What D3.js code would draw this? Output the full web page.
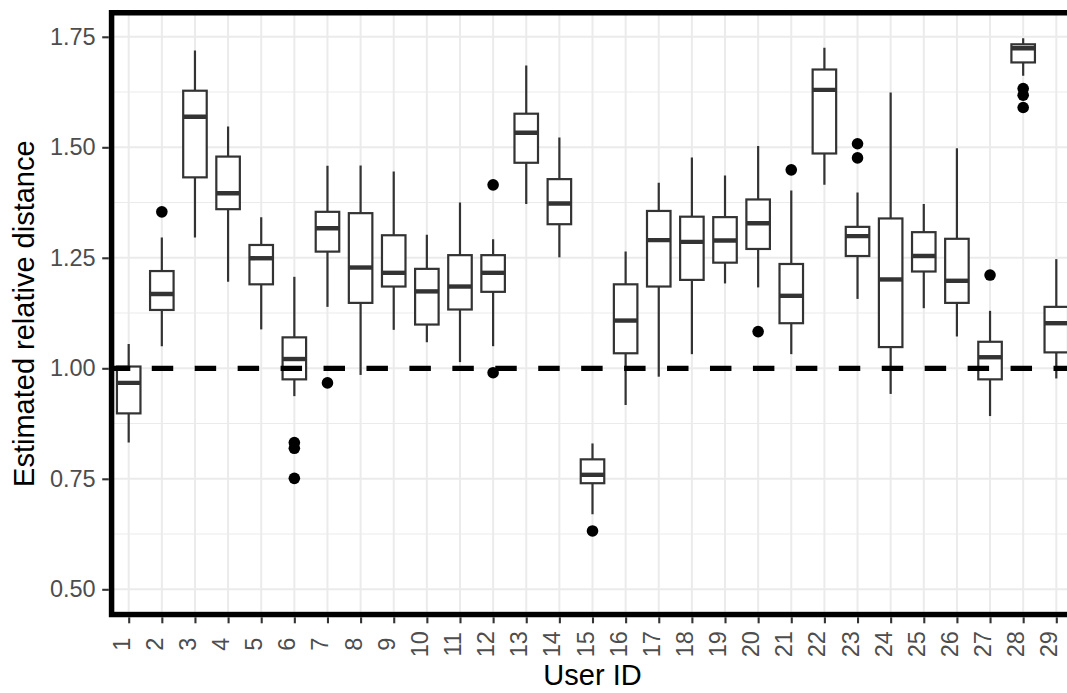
<!DOCTYPE html>
<html>
<head>
<meta charset="utf-8">
<script src="https://cdn.jsdelivr.net/npm/d3@7"></script>
<style>
  html, body { margin: 0; padding: 0; background: #fff; }
  svg { display: block; font-family: "Liberation Sans", Arial, Helvetica, sans-serif; }
</style>
</head>
<body>
<svg id="chart" width="1067" height="693"></svg>
<script>
// ---- data ----
const userIds = ["1","2","3","4","5","6","7","8","9","10","11","12","13","14","15","16","17","18","19","20","21","22","23","24","25","26","27","28","29"];
const whiskerLow  = [0.832,1.050,1.296,1.196,1.088,0.937,1.139,0.985,1.087,1.059,1.014,1.050,1.372,1.251,0.670,0.917,0.981,1.032,1.192,1.183,1.032,1.415,1.157,0.942,1.136,1.072,0.892,1.662,0.977];
const q1Values    = [0.898,1.132,1.432,1.360,1.190,0.975,1.264,1.148,1.185,1.099,1.133,1.173,1.465,1.326,0.740,1.034,1.185,1.200,1.239,1.270,1.102,1.486,1.254,1.048,1.219,1.148,0.975,1.692,1.036];
const medianValues= [0.967,1.168,1.569,1.396,1.249,1.021,1.317,1.228,1.216,1.174,1.185,1.216,1.533,1.373,0.759,1.108,1.290,1.286,1.289,1.328,1.164,1.630,1.299,1.201,1.254,1.198,1.025,1.724,1.102];
const q3Values    = [1.004,1.220,1.628,1.479,1.279,1.070,1.354,1.351,1.301,1.225,1.256,1.256,1.576,1.428,0.794,1.190,1.356,1.343,1.342,1.382,1.236,1.676,1.320,1.339,1.308,1.293,1.060,1.733,1.139];
const whiskerHigh = [1.055,1.296,1.719,1.547,1.342,1.207,1.458,1.459,1.445,1.302,1.375,1.292,1.685,1.522,0.830,1.264,1.420,1.477,1.436,1.503,1.402,1.725,1.398,1.624,1.372,1.498,1.130,1.747,1.247];
const outlierIds    = ["2","6","6","6","7","12","12","15","20","21","23","23","27","28","28","28"];
const outlierValues = [1.354,0.832,0.819,0.751,0.967,1.415,0.990,0.632,1.083,1.449,1.508,1.476,1.211,1.633,1.618,1.590];
const yTicks = [0.50, 0.75, 1.00, 1.25, 1.50, 1.75];
const yMinor = [0.625, 0.875, 1.125, 1.375, 1.625];
const refValue = 1.0;
const xTitle = "User ID";
const yTitle = "Estimated relative distance";

// ---- layout ----
const svg = d3.select("#chart");
const x = d3.scalePoint().domain(userIds).range([128.7, 1056.3]);
const step = x.step();
const y = d3.scaleLinear().domain([0.5, 1.75]).range([589.3, 36.8]);
const panel = { left: x(userIds[0]) - 0.6 * step, right: x(userIds[userIds.length-1]) + 0.6 * step, top: 10, bottom: 617.3 };
const boxW = 0.71 * step;
const boxColor = "#333333";

svg.append("defs").append("clipPath").attr("id", "pclip")
  .append("rect").attr("x", panel.left).attr("y", panel.top)
  .attr("width", panel.right - panel.left).attr("height", panel.bottom - panel.top);

const g = svg.append("g").attr("clip-path", "url(#pclip)");

// background
g.append("rect").attr("x", panel.left).attr("y", panel.top)
  .attr("width", panel.right - panel.left).attr("height", panel.bottom - panel.top).attr("fill", "#fff");

// grid
g.selectAll("line.ymin").data(yMinor).join("line")
  .attr("x1", panel.left).attr("x2", panel.right)
  .attr("y1", d => y(d)).attr("y2", d => y(d))
  .attr("stroke", "#EBEBEB").attr("stroke-width", 1.1);
g.selectAll("line.ymaj").data(yTicks).join("line")
  .attr("x1", panel.left).attr("x2", panel.right)
  .attr("y1", d => y(d)).attr("y2", d => y(d))
  .attr("stroke", "#EBEBEB").attr("stroke-width", 2);
g.selectAll("line.xmaj").data(userIds).join("line")
  .attr("x1", d => x(d)).attr("x2", d => x(d))
  .attr("y1", panel.top).attr("y2", panel.bottom)
  .attr("stroke", "#EBEBEB").attr("stroke-width", 2);

// boxes
const boxes = userIds.map((id, i) => ({ id, lo: whiskerLow[i], q1: q1Values[i], med: medianValues[i], q3: q3Values[i], hi: whiskerHigh[i] }));
const bg = g.selectAll("g.box").data(boxes).join("g").attr("class", "box");
bg.append("line").attr("x1", d => x(d.id)).attr("x2", d => x(d.id))
  .attr("y1", d => y(d.q3)).attr("y2", d => y(d.hi))
  .attr("stroke", boxColor).attr("stroke-width", 2.2);
bg.append("line").attr("x1", d => x(d.id)).attr("x2", d => x(d.id))
  .attr("y1", d => y(d.q1)).attr("y2", d => y(d.lo))
  .attr("stroke", boxColor).attr("stroke-width", 2.2);
bg.append("rect").attr("x", d => x(d.id) - boxW / 2).attr("width", boxW)
  .attr("y", d => y(d.q3)).attr("height", d => y(d.q1) - y(d.q3))
  .attr("fill", "#fff").attr("stroke", boxColor).attr("stroke-width", 2.2);
bg.append("line").attr("x1", d => x(d.id) - boxW / 2).attr("x2", d => x(d.id) + boxW / 2)
  .attr("y1", d => y(d.med)).attr("y2", d => y(d.med))
  .attr("stroke", boxColor).attr("stroke-width", 4.4);

// outliers
const outliers = outlierIds.map((id, i) => ({ id, v: outlierValues[i] }));
g.selectAll("circle.out").data(outliers).join("circle")
  .attr("cx", d => x(d.id)).attr("cy", d => y(d.v)).attr("r", 5.8).attr("fill", "#000");

// reference line
g.append("line").attr("x1", panel.left).attr("x2", panel.right)
  .attr("y1", y(refValue)).attr("y2", y(refValue))
  .attr("stroke", "#000").attr("stroke-width", 5.3).attr("stroke-dasharray", "21.47 21.47");

// panel border (inner half visible)
g.append("rect").attr("x", panel.left).attr("y", panel.top)
  .attr("width", panel.right - panel.left).attr("height", panel.bottom - panel.top)
  .attr("fill", "none").attr("stroke", "#000").attr("stroke-width", 11);

// y axis
const yAxis = svg.append("g").attr("transform", `translate(${panel.left},0)`)
  .call(d3.axisLeft(y).tickValues(yTicks).tickFormat(d3.format(".2f")).tickSize(6.6).tickPadding(6.6));
yAxis.select(".domain").remove();
yAxis.selectAll(".tick line").attr("stroke", boxColor).attr("stroke-width", 2.1);
yAxis.selectAll(".tick text").attr("fill", "#4D4D4D").attr("font-size", 23.5).attr("font-family", "Liberation Sans, Arial, sans-serif");

// x axis
const xAxis = svg.append("g").attr("transform", `translate(0,${panel.bottom})`)
  .call(d3.axisBottom(x).tickSize(6).tickPadding(0));
xAxis.select(".domain").remove();
xAxis.selectAll(".tick line").attr("stroke", boxColor).attr("stroke-width", 2.1);
xAxis.selectAll(".tick text")
  .attr("fill", "#4D4D4D").attr("font-size", 23.5).attr("font-family", "Liberation Sans, Arial, sans-serif")
  .attr("dy", null).attr("y", null)
  .attr("text-anchor", "middle")
  .attr("transform", "translate(0.5,27) rotate(-90)");

// titles
svg.append("text").attr("x", (panel.left + panel.right) / 2).attr("y", 685)
  .attr("text-anchor", "middle").attr("font-size", 29).attr("fill", "#000").text(xTitle);
svg.append("text").attr("transform", `translate(33.5,${(panel.top + panel.bottom) / 2}) rotate(-90)`)
  .attr("text-anchor", "middle").attr("font-size", 29).attr("fill", "#000").text(yTitle);
</script>
</body>
</html>
